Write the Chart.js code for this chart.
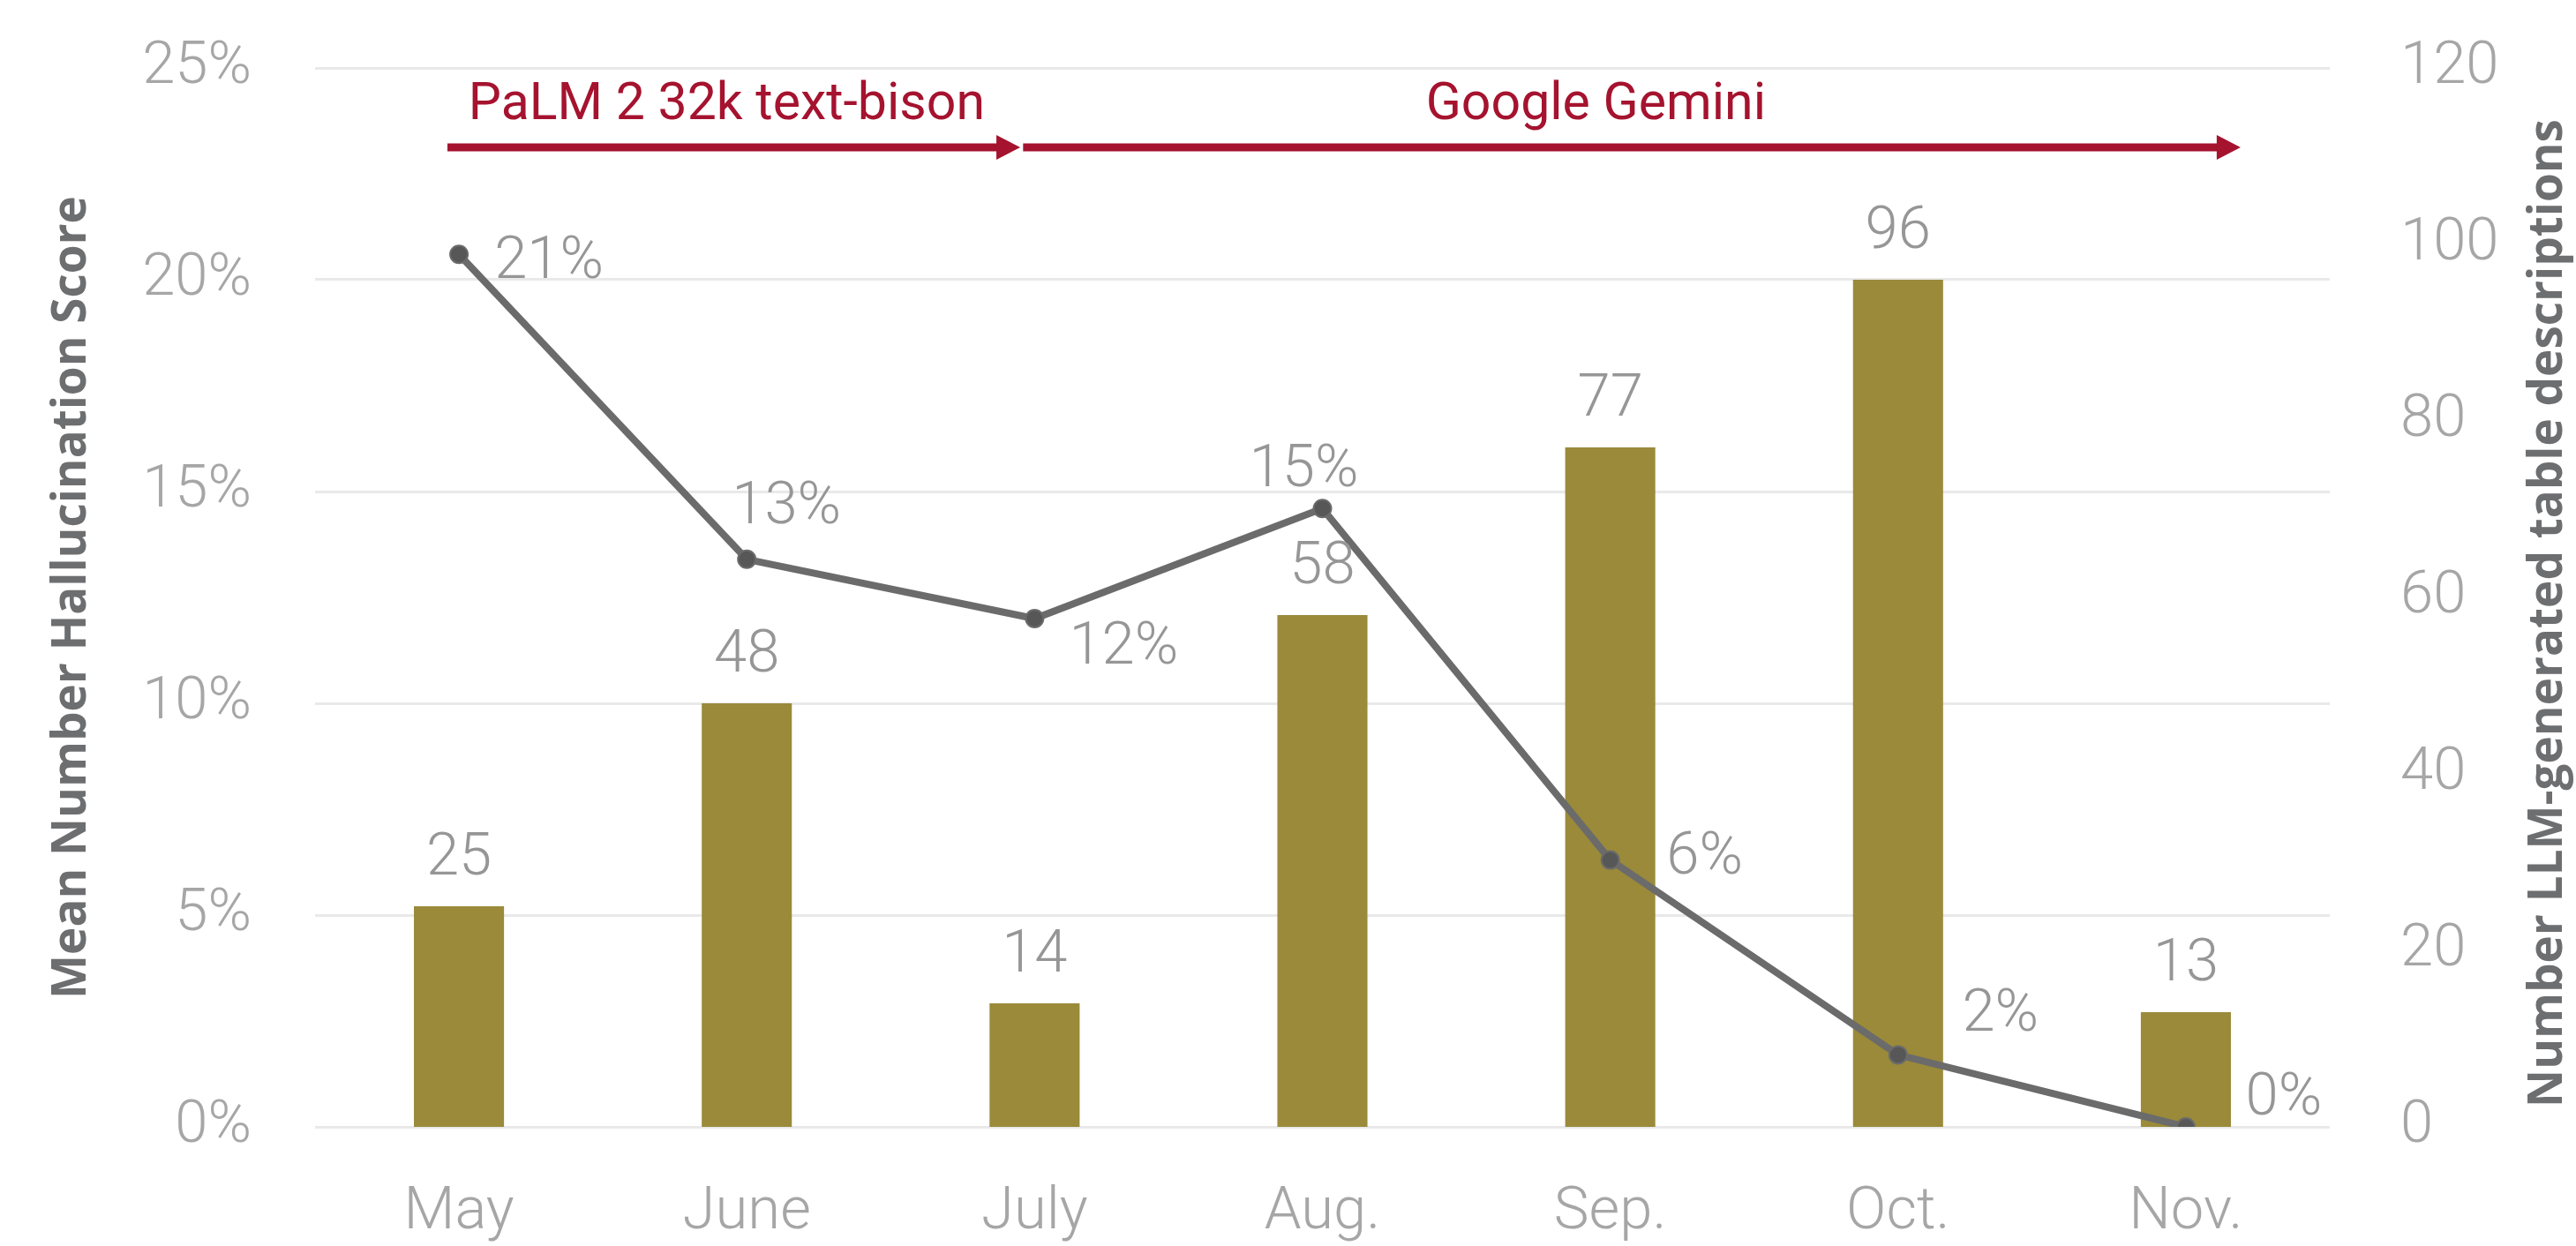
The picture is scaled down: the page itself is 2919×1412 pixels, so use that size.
<!DOCTYPE html>
<html>
<head>
<meta charset="utf-8">
<script src="https://cdn.jsdelivr.net/npm/chart.js@4.4.1/dist/chart.umd.min.js"></script>
<style>
  html, body { margin: 0; padding: 0; background: #ffffff; }
  #wrap { width: 2919px; height: 1412px; position: relative; }
</style>
</head>
<body>
<div id="wrap"><canvas id="hallucinationChart"></canvas></div>
<script>
//==============================Data============================
const months = ['May', 'June', 'July', 'Aug.', 'Sep.', 'Oct.', 'Nov.'];
const descriptionCounts = [25, 48, 14, 58, 77, 96, 13];
const hallucinationScores = [0.206, 0.134, 0.120, 0.146, 0.063, 0.017, 0.000];
const scoreTicks = ['0%', '5%', '10%', '15%', '20%', '25%'];
const countTicks = ['0', '20', '40', '60', '80', '100', '120'];
const modelNames = ['PaLM 2 32k text-bison', 'Google Gemini'];

//==============================Layout bits============================
// where each model arrow starts/ends, in category units
const modelSpans = [[-0.04, 1.95], [1.96, 6.19]];
const modelTextAt = [0.93, 3.95];
// label offset from each line point (centre of text), px
const lineLabelOffsets = [[102, 3], [45, -65], [101, 27], [-21, -49], [107, -9], [116, -51], [111, -38]];

const tickFont = { family: 'Roboto', size: 67, weight: '300' };
const tickColor = '#a6a6a6';
const labelColor = '#969696';
const modelColor = '#a5132f';
const titleColor = '#6d6e70';

// vertical axes: fixed width, and no extra top/bottom room for the labels
function fixAxis(width) {
  return s => {
    s.width = width;
    s.paddingTop = 0;
    s.paddingBottom = 0;
  };
}

const overlay = {
  id: 'overlay',
  afterDatasetsDraw(chart) {
    const ctx = chart.ctx;
    const area = chart.chartArea;
    const x = chart.scales.x;

    ctx.save();
    // value labels on bars
    ctx.font = '300 67px Roboto';
    ctx.fillStyle = labelColor;
    ctx.textAlign = 'center';
    ctx.textBaseline = 'alphabetic';
    chart.getDatasetMeta(0).data.forEach((bar, i) => {
      ctx.fillText(String(descriptionCounts[i]), bar.x, bar.y - 36);
    });

    // value labels on the line
    chart.getDatasetMeta(1).data.forEach((pt, i) => {
      const o = lineLabelOffsets[i];
      const txt = Math.round(hallucinationScores[i] * 100) + '%';
      ctx.fillText(txt, pt.x + o[0], pt.y + o[1] + 24);
    });

    // model arrows
    const ay = area.top + 90;
    ctx.fillStyle = modelColor;
    modelSpans.forEach((span, i) => {
      const x0 = x.getPixelForValue(span[0]);
      const x1 = x.getPixelForValue(span[1]);
      ctx.fillRect(x0, ay - 4.5, x1 - x0 - 24, 9);
      ctx.beginPath();
      ctx.moveTo(x1, ay);
      ctx.lineTo(x1 - 27, ay - 14);
      ctx.lineTo(x1 - 27, ay + 14);
      ctx.closePath();
      ctx.fill();

      ctx.font = '59px Roboto';
      ctx.textAlign = 'center';
      ctx.fillText(modelNames[i], x.getPixelForValue(modelTextAt[i]), area.top + 58);
    });

    // axis titles, both read bottom to top
    ctx.font = 'bold 53px "Open Sans"';
    ctx.fillStyle = titleColor;
    ctx.textBaseline = 'middle';
    ctx.translate(82, (area.top + area.bottom) / 2);
    ctx.rotate(-Math.PI / 2);
    ctx.fillText('Mean Number Hallucination Score', 0, 0);
    ctx.restore();

    ctx.save();
    ctx.font = 'bold 53px "Open Sans"';
    ctx.fillStyle = titleColor;
    ctx.textAlign = 'center';
    ctx.textBaseline = 'middle';
    ctx.translate(2888, (area.top + area.bottom) / 2 + 18);
    ctx.rotate(-Math.PI / 2);
    ctx.fillText('Number LLM-generated table descriptions', 0, 0);
    ctx.restore();
  }
};

const ctx = document.getElementById('hallucinationChart');

new Chart(ctx, {
  type: 'bar',
  data: {
    labels: months,
    datasets: [{
      type: 'bar',
      label: 'Number of descriptions',
      data: descriptionCounts,
      yAxisID: 'y1',
      backgroundColor: '#9a8a3a',
      barPercentage: 0.313,
      categoryPercentage: 1,
      order: 1
    }, {
      type: 'line',
      label: 'Mean hallucination score',
      data: hallucinationScores,
      yAxisID: 'y',
      borderColor: '#6b6b6b',
      borderWidth: 8,
      pointRadius: 10,
      pointBackgroundColor: '#575757',
      pointBorderColor: '#6b6b6b',
      pointBorderWidth: 2,
      tension: 0,
      order: 0
    }]
  },
  options: {
    responsive: true,
    maintainAspectRatio: false,
    animation: false,
    layout: { padding: { top: 77, left: 0, right: 0, bottom: 0 } },
    plugins: {
      legend: { display: false },
      tooltip: { enabled: false }
    },
    scales: {
      x: {
        grid: { display: false },
        border: { display: false },
        ticks: { font: tickFont, color: tickColor, padding: 50, maxRotation: 0 },
        afterFit: s => { s.height = 135; }
      },
      y: {
        position: 'left',
        min: 0,
        max: 0.25,
        grid: { color: '#e9e9e9', lineWidth: 3, drawTicks: false },
        border: { display: false },
        ticks: {
          stepSize: 0.05,
          font: tickFont,
          color: tickColor,
          padding: 72,
          callback: (v, i) => scoreTicks[i]
        },
        afterFit: fixAxis(357)
      },
      y1: {
        position: 'right',
        min: 0,
        max: 120,
        grid: { display: false, drawTicks: false },
        border: { display: false },
        ticks: {
          stepSize: 20,
          font: tickFont,
          color: tickColor,
          padding: 80,
          callback: (v, i) => countTicks[i]
        },
        afterFit: fixAxis(279)
      }
    }
  },
  plugins: [overlay]
});
</script>
</body>
</html>
